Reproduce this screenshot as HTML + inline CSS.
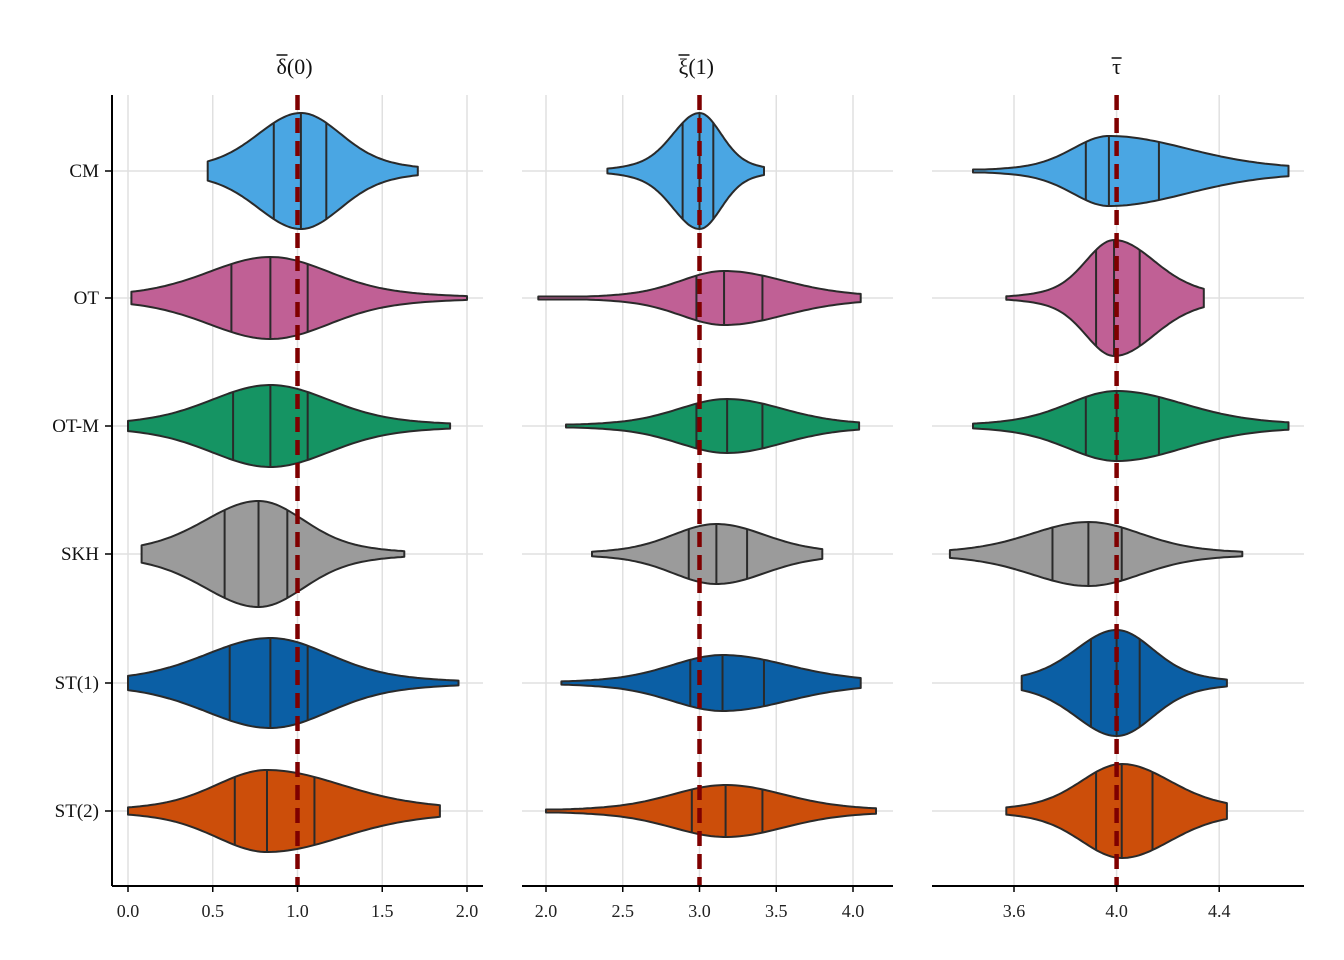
<!DOCTYPE html>
<html><head><meta charset="utf-8"><style>body{margin:0;background:#fff}svg{display:block}</style></head>
<body>
<svg id="s" width="1344" height="960" xmlns="http://www.w3.org/2000/svg" font-family="Liberation Serif, serif"></svg>
<script>
const S=document.getElementById('s');let h='';
const rows=[171,298,426,554,683,811],names=['CM','OT','OT-M','SKH','ST(1)','ST(2)'];
const cols=['#4AA6E3','#C06095','#159463','#9B9B9B','#0B5FA5','#CC4E0A'];
const panels=[
 {x0:112,x1:483,v0:0,px0:128,k:169.5,ticks:[0,0.5,1,1.5,2],ref:1,t:'δ',ts:'(0)',
  v:[[0.47,1.71,58,0.86,1.02,1.17],[0.02,2.0,41,0.61,0.84,1.06],[0.0,1.9,41,0.62,0.84,1.06],[0.08,1.63,53,0.57,0.77,0.94],[0.0,1.95,45,0.60,0.84,1.06],[0.0,1.84,41,0.63,0.82,1.10]]},
 {x0:522,x1:893,v0:2,px0:546,k:153.5,ticks:[2,2.5,3,3.5,4],ref:3,t:'ξ',ts:'(1)',
  v:[[2.4,3.42,58,2.89,3.0,3.09],[1.95,4.05,27,2.98,3.16,3.41],[2.13,4.04,27,2.98,3.18,3.41],[2.3,3.8,30,2.93,3.11,3.31],[2.1,4.05,28,2.94,3.15,3.42],[2.0,4.15,26,2.95,3.17,3.41]]},
 {x0:932,x1:1304,v0:3.6,px0:1014,k:256.5,ticks:[3.6,4.0,4.4],ref:4,t:'τ',ts:'',
  v:[[3.44,4.67,35,3.88,3.97,4.165],[3.57,4.34,58,3.92,3.99,4.09],[3.44,4.67,35,3.88,4.0,4.165],[3.35,4.49,32,3.75,3.89,4.02],[3.63,4.43,53,3.90,4.0,4.09],[3.57,4.43,47,3.92,4.02,4.14]]}
];
panels.forEach(p=>{
 const X=v=>p.px0+(v-p.v0)*p.k;
 p.ticks.forEach(t=>{h+=`<line x1="${X(t)}" x2="${X(t)}" y1="95" y2="886" stroke="#e0e0e0" stroke-width="1.5"/>`;});
 rows.forEach(y=>{h+=`<line x1="${p.x0}" x2="${p.x1}" y1="${y}" y2="${y}" stroke="#e0e0e0" stroke-width="1.5"/>`;});
 p.v.forEach((d,i)=>{
  const [mn,mx,w,q1,md,q3]=d,sl=(md-q1)/0.674,sr=(q3-md)/0.674,cy=rows[i];
  const f=v=>{const z=(v-md)/(v<md?sl:sr);return w*(0.78*Math.exp(-0.5*z*z)+0.22*Math.exp(-0.5*z*z/4));};
  let top=[],bot=[];const N=80;
  for(let j=0;j<=N;j++){const v=mn+(mx-mn)*j/N;const hw=Math.max(f(v),1.5);top.push(`${X(v).toFixed(1)},${(cy-hw).toFixed(1)}`);bot.unshift(`${X(v).toFixed(1)},${(cy+hw).toFixed(1)}`);}
  h+=`<polygon points="${top.join(' ')} ${bot.join(' ')}" fill="${cols[i]}" stroke="#2a2a2a" stroke-width="2" stroke-linejoin="round"/>`;
  [q1,md,q3].forEach(q=>{const hw=f(q);h+=`<line x1="${X(q)}" x2="${X(q)}" y1="${cy-hw}" y2="${cy+hw}" stroke="#2a2a2a" stroke-width="2"/>`;});
 });
 h+=`<line x1="${X(p.ref)}" x2="${X(p.ref)}" y1="95" y2="886" stroke="#7f0000" stroke-width="4.5" stroke-dasharray="15,8"/>`;
 h+=`<line x1="${p.x0}" x2="${p.x1}" y1="886" y2="886" stroke="#000" stroke-width="2"/>`;
 p.ticks.forEach(t=>{h+=`<line x1="${X(t)}" x2="${X(t)}" y1="886" y2="892" stroke="#000" stroke-width="1.5"/><text x="${X(t)}" y="917" font-size="18" text-anchor="middle" fill="#222">${t.toFixed(1)}</text>`;});
 const cx=X(p.ref);
 if(p.ts){h+=`<text x="${cx-21}" y="74" font-size="22" fill="#111">${p.t}<tspan>${p.ts}</tspan></text><line x1="${cx-21}" x2="${cx-10}" y1="55" y2="55" stroke="#111" stroke-width="1.5"/>`;}
 else{h+=`<text x="${cx}" y="74" font-size="22" text-anchor="middle" fill="#111">${p.t}</text><line x1="${cx-5}" x2="${cx+5}" y1="58" y2="58" stroke="#111" stroke-width="1.5"/>`;}
});
h+=`<line x1="112" x2="112" y1="95" y2="886" stroke="#000" stroke-width="2"/>`;
rows.forEach((y,i)=>{h+=`<line x1="105" x2="112" y1="${y}" y2="${y}" stroke="#000" stroke-width="1.5"/><text x="99" y="${y+6}" font-size="19" text-anchor="end" fill="#111">${names[i]}</text>`;});
S.innerHTML=h;
</script>
</body></html>
